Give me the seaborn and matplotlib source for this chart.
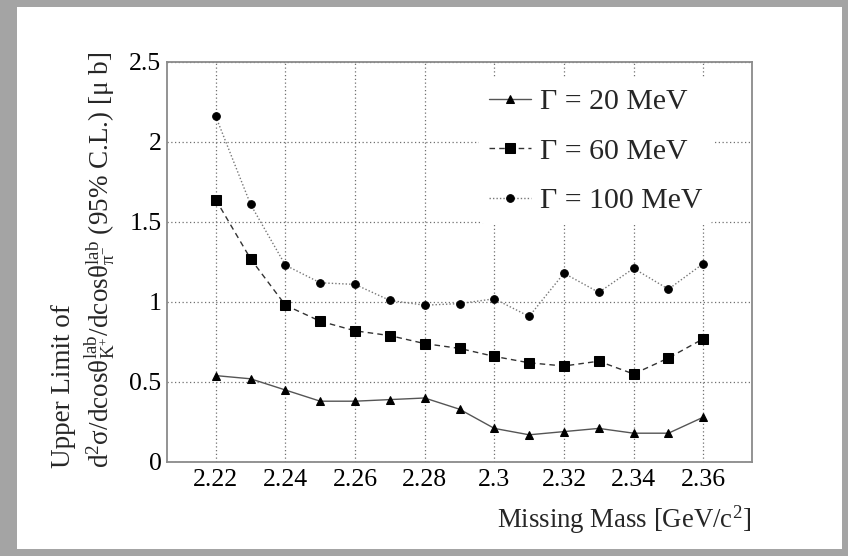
import numpy as np
import pandas as pd
import matplotlib
matplotlib.use("Agg")
import matplotlib.pyplot as plt
import seaborn as sns
from matplotlib.ticker import MultipleLocator, FuncFormatter
from matplotlib.patches import Rectangle

# data
mass = [2.22, 2.23, 2.24, 2.25, 2.26, 2.27, 2.28, 2.29, 2.30, 2.31, 2.32, 2.33, 2.34, 2.35, 2.36]
limit_20 = [0.54, 0.52, 0.45, 0.38, 0.38, 0.39, 0.40, 0.33, 0.21, 0.17, 0.19, 0.21, 0.18, 0.18, 0.28]
limit_60 = [1.64, 1.27, 0.98, 0.88, 0.82, 0.79, 0.74, 0.71, 0.66, 0.62, 0.60, 0.63, 0.55, 0.65, 0.77]
limit_100 = [2.16, 1.61, 1.23, 1.12, 1.11, 1.01, 0.98, 0.99, 1.02, 0.91, 1.18, 1.06, 1.21, 1.08, 1.24]
labels = ["Γ = 20 MeV", "Γ = 60 MeV", "Γ = 100 MeV"]

sns.set_theme(style="white")
plt.rcParams["font.family"] = ["Liberation Serif", "DejaVu Serif"]
plt.rcParams["mathtext.fontset"] = "custom"
plt.rcParams["mathtext.rm"] = "Liberation Serif"
plt.rcParams["mathtext.it"] = "Liberation Serif:italic"

fig = plt.figure(figsize=(8.48, 5.56), dpi=100)
fig.patch.set_facecolor("#a4a4a4")
# white paper panel
fig.patches.append(Rectangle((17 / 848, 7 / 556), 825 / 848, 542 / 556,
                             transform=fig.transFigure, facecolor="white",
                             edgecolor="none", zorder=-5))

ax = fig.add_axes([167 / 848, 94 / 556, 585 / 848, 400 / 556])
ax.set_zorder(2)
ax.set_facecolor("white")

df = pd.DataFrame({"mass": mass, "g20": limit_20, "g60": limit_60, "g100": limit_100})

sns.lineplot(data=df, x="mass", y="g20", ax=ax, color="#555555", lw=1.0,
             marker="^", markersize=6, markerfacecolor="black",
             markeredgecolor="black", label=labels[0], zorder=3)
sns.lineplot(data=df, x="mass", y="g60", ax=ax, color="#333333", lw=1.0,
             linestyle=(0, (4, 3)), marker="s", markersize=7.5,
             markerfacecolor="black", markeredgecolor="black",
             label=labels[1], zorder=3)
sns.lineplot(data=df, x="mass", y="g100", ax=ax, color="#777777", lw=1.0,
             linestyle=(0, (1, 1.5)), marker="o", markersize=5.5,
             markerfacecolor="black", markeredgecolor="black",
             label=labels[2], zorder=3)

ax.set_xlim(2.206, 2.374)
ax.set_ylim(0, 2.5)
ax.xaxis.set_major_locator(MultipleLocator(0.02))
ax.xaxis.set_minor_locator(MultipleLocator(0.005))
ax.yaxis.set_major_locator(MultipleLocator(0.5))
ax.yaxis.set_minor_locator(MultipleLocator(0.1))
fmt = FuncFormatter(lambda v, p: "%g" % round(v, 4))
ax.xaxis.set_major_formatter(fmt)
ax.yaxis.set_major_formatter(fmt)

ax.tick_params(axis="both", which="both", direction="in", color="#808080",
               labelsize=18.5, labelcolor="black", top=False, right=False)
ax.tick_params(axis="both", which="major", length=11, width=1.0, pad=4)
ax.tick_params(axis="both", which="minor", length=6, width=1.0)
ax.tick_params(axis="x", which="major", pad=5)

for s in ax.spines.values():
    s.set_color("#8a8a8a")
    s.set_linewidth(1.3)

ax.grid(True, which="major", color="#707070", linestyle=(0, (1, 2)), linewidth=0.9)
ax.set_axisbelow(True)

ax.set_xlabel("")
ax.set_ylabel("")
fig.text(751 / 848, 1 - 520 / 556, r"Missing Mass [GeV/c$^{2}$]", ha="right",
         va="center", fontsize=19.3)
fig.text(64 / 848, 1 - 468 / 556, "Upper Limit of", rotation=90, ha="center",
         va="bottom", fontsize=19.5)
fig.text(100 / 848, 1 - 468 / 556,
         r"d$^{2}$σ/dcosθ$^{\rm lab}_{\rm K^{+}}$/dcosθ$^{\rm lab}_{\rm π^{-}}$ (95% C.L.) [μ b]",
         rotation=90, ha="center", va="bottom", fontsize=19.5)

leg = ax.legend(loc="upper left", bbox_to_anchor=(0.533, 0.96), frameon=True,
                fontsize=21.5, handlelength=1.4, handletextpad=0.3,
                labelspacing=0.75, borderpad=0.35, borderaxespad=0)
leg.get_frame().set_facecolor("white")
leg.get_frame().set_edgecolor("none")
leg.get_frame().set_alpha(1)

plt.savefig("out.png", dpi=100, facecolor=fig.get_facecolor())
